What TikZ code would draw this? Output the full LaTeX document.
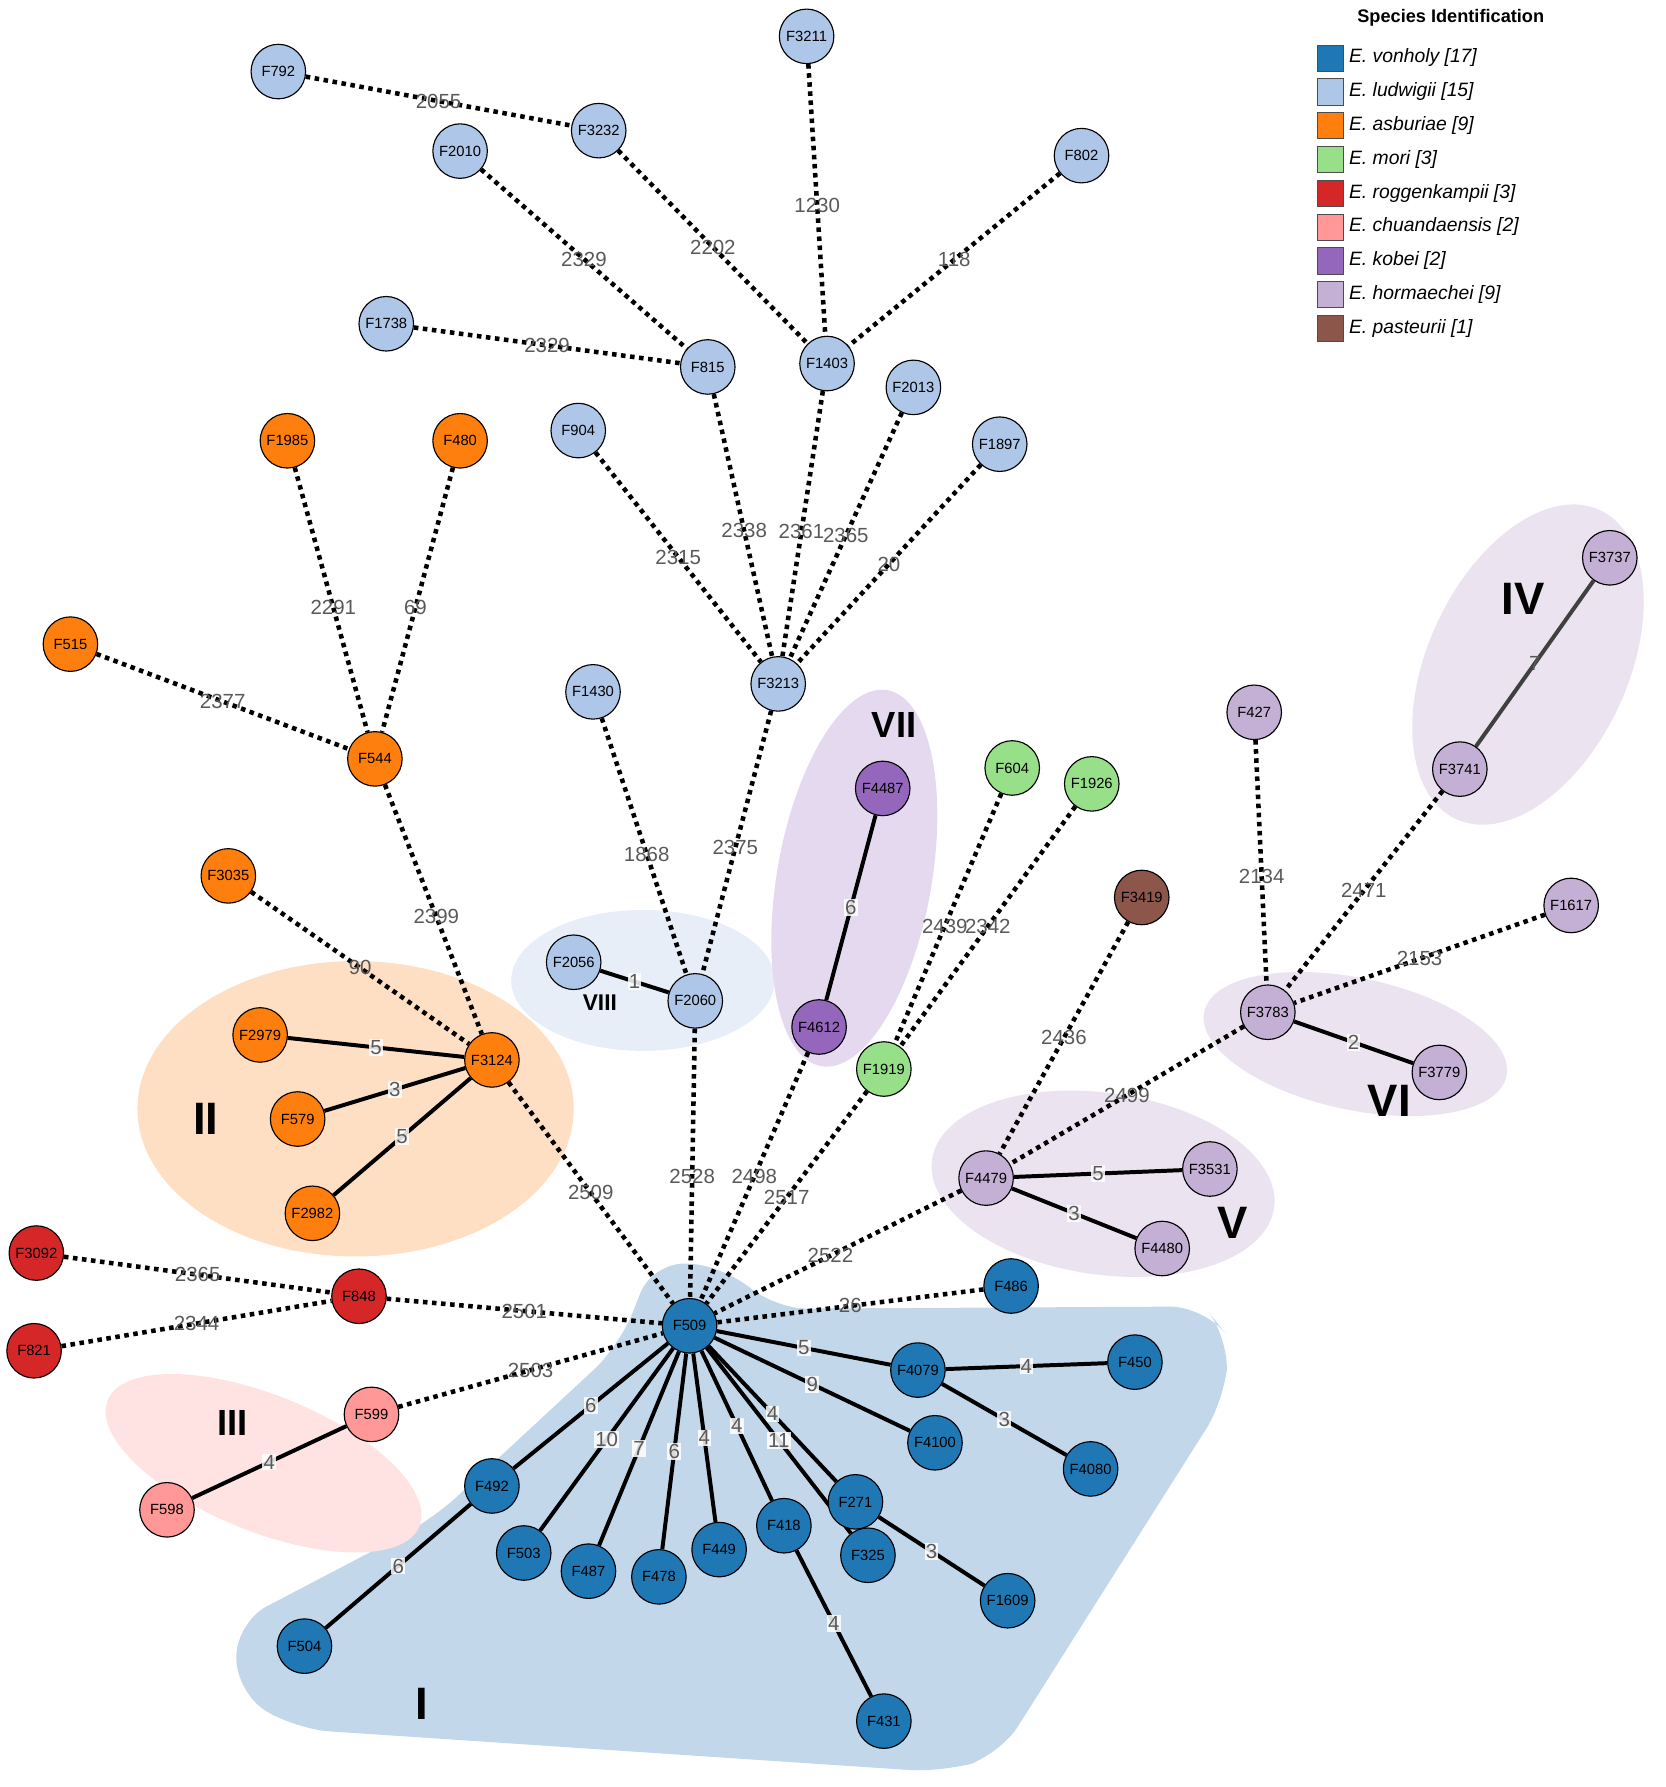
\documentclass[tikz,border=0pt]{standalone}
\usepackage{fontspec}
\setmainfont{Liberation Sans}
\pgfdeclarelayer{hull}\pgfdeclarelayer{edges}
\pgfsetlayers{hull,edges,main}
\definecolor{cvon}{HTML}{1F77B4}\definecolor{clud}{HTML}{AEC7E8}
\definecolor{casb}{HTML}{FF7F0E}\definecolor{cmor}{HTML}{98DF8A}
\definecolor{crog}{HTML}{D62728}\definecolor{cchu}{HTML}{FF9896}
\definecolor{ckob}{HTML}{9467BD}\definecolor{chor}{HTML}{C5B0D5}
\definecolor{cpas}{HTML}{8C564B}\definecolor{hullI}{HTML}{C2D7EA}
\tikzset{
 st/.style={circle,draw=black,line width=1pt,minimum size=48pt,inner sep=0pt,font=\fontsize{13}{13}\selectfont},
 von/.style={st,fill=cvon},lud/.style={st,fill=clud},asb/.style={st,fill=casb},
 mor/.style={st,fill=cmor},rog/.style={st,fill=crog},chu/.style={st,fill=cchu},
 kob/.style={st,fill=ckob},hor/.style={st,fill=chor},pas/.style={st,fill=cpas},
 dotl/.style={line width=4pt,dash pattern=on 4pt off 4pt},
 sol/.style={line width=3.5pt},
 lab/.style={text=black!65,font=\fontsize{18}{18}\selectfont,inner sep=1pt},
 slab/.style={lab,fill=white,fill opacity=0.85,text opacity=1},
 grp/.style={font=\bfseries\fontsize{40}{40}\selectfont},
 lsq/.style={draw=black!70,minimum size=23pt,inner sep=0pt},
 ltx/.style={anchor=west,font=\fontsize{17}{17}\selectfont}
}
\begin{document}
\begin{tikzpicture}[x=1pt,y=-1pt]
\useasboundingbox (0,0) rectangle (1466,1573);
% hulls
\begin{pgfonlayer}{hull}
\fill[fill=hullI,rounded corners=30pt] (575,1110)--(640,1115)--(680,1152)--(1060,1150)--(1082,1178)--(1078,1232)--(880,1545)--(830,1560)--(260,1522)--(208,1490)--(208,1428)--(380,1338)--(545,1185)--cycle;
\fill[fill=casb!25] (313,976) ellipse [x radius=192, y radius=130];
\fill[fill=cchu!28,rotate around={-22:(232,1288)}] (232,1288) ellipse [x radius=148, y radius=60];
\fill[fill=clud!30] (566,863) ellipse [x radius=116, y radius=62];
\fill[fill=ckob!25,rotate around={-10:(752,773)}] (752,773) ellipse [x radius=68, y radius=168];
\fill[fill=chor!35,rotate around={-25:(1345,585)}] (1345,585) ellipse [x radius=88, y radius=150];
\fill[fill=chor!35,rotate around={-8:(971,1042)}] (971,1042) ellipse [x radius=152, y radius=80];
\fill[fill=chor!35,rotate around={-12:(1193,919)}] (1193,919) ellipse [x radius=136, y radius=58];
\end{pgfonlayer}
\node[grp] at (371,1500) {I};
\node[grp] at (181,985) {II};
\node[grp,font=\bfseries\fontsize{32}{32}\selectfont] at (205,1253) {III};
\node[grp] at (1341,527) {IV};
\node[grp] at (1085,1076) {V};
\node[grp] at (1223,969) {VI};
\node[grp,font=\bfseries\fontsize{32}{32}\selectfont] at (787,638) {VII};
\node[grp,font=\bfseries\fontsize{20}{20}\selectfont] at (528,883) {VIII};
% nodes
\node[lud] (F792) at (245,63) {F792};
\node[lud] (F3232) at (527,115) {F3232};
\node[lud] (F3211) at (710,32) {F3211};
\node[lud] (F2010) at (405,133) {F2010};
\node[lud] (F802) at (952,137) {F802};
\node[lud] (F1403) at (728,320) {F1403};
\node[lud] (F815) at (623,323) {F815};
\node[lud] (F1738) at (340,285) {F1738};
\node[lud] (F2013) at (804,341) {F2013};
\node[lud] (F904) at (509,379) {F904};
\node[lud] (F1897) at (880,391) {F1897};
\node[lud] (F3213) at (685,602) {F3213};
\node[lud] (F1430) at (522,609) {F1430};
\node[lud] (F2056) at (505,847) {F2056};
\node[lud] (F2060) at (612,881) {F2060};
\node[asb] (F1985) at (253,388) {F1985};
\node[asb] (F480) at (405,388) {F480};
\node[asb] (F515) at (62,567) {F515};
\node[asb] (F544) at (330,668) {F544};
\node[asb] (F3035) at (201,771) {F3035};
\node[asb] (F3124) at (433,933) {F3124};
\node[asb] (F2979) at (229,911) {F2979};
\node[asb] (F579) at (262,985) {F579};
\node[asb] (F2982) at (275,1068) {F2982};
\node[kob] (F4487) at (777,694) {F4487};
\node[kob] (F4612) at (721,904) {F4612};
\node[mor] (F604) at (891,676) {F604};
\node[mor] (F1926) at (961,690) {F1926};
\node[mor] (F1919) at (778,941) {F1919};
\node[pas] (F3419) at (1005,790) {F3419};
\node[hor] (F427) at (1104,627) {F427};
\node[hor] (F3737) at (1417,491) {F3737};
\node[hor] (F3741) at (1285,677) {F3741};
\node[hor] (F1617) at (1383,797) {F1617};
\node[hor] (F3783) at (1116,891) {F3783};
\node[hor] (F3779) at (1267,944) {F3779};
\node[hor] (F4479) at (868,1037) {F4479};
\node[hor] (F3531) at (1065,1029) {F3531};
\node[hor] (F4480) at (1023,1099) {F4480};
\node[rog] (F3092) at (32,1103) {F3092};
\node[rog] (F848) at (316,1141) {F848};
\node[rog] (F821) at (30,1189) {F821};
\node[chu] (F599) at (327,1245) {F599};
\node[chu] (F598) at (147,1329) {F598};
\node[von] (F486) at (890,1132) {F486};
\node[von] (F509) at (607,1167) {F509};
\node[von] (F4079) at (808,1206) {F4079};
\node[von] (F450) at (999,1199) {F450};
\node[von] (F4100) at (823,1270) {F4100};
\node[von] (F4080) at (960,1293) {F4080};
\node[von] (F492) at (433,1308) {F492};
\node[von] (F503) at (461,1367) {F503};
\node[von] (F487) at (518,1383) {F487};
\node[von] (F478) at (580,1388) {F478};
\node[von] (F449) at (633,1364) {F449};
\node[von] (F418) at (690,1343) {F418};
\node[von] (F271) at (753,1322) {F271};
\node[von] (F325) at (764,1369) {F325};
\node[von] (F1609) at (887,1409) {F1609};
\node[von] (F504) at (268,1449) {F504};
\node[von] (F431) at (778,1515) {F431};
% edges
\begin{pgfonlayer}{edges}
\foreach \a/\b/\p/\l in {F792/F3232/0.5/2055,F3232/F1403/0.5/2202,F3211/F1403/0.52/1230,F802/F1403/0.5/118,
 F2010/F815/0.5/2329,F1738/F815/0.5/2329,F815/F3213/0.52/2338,F1403/F3213/0.53/2361,F2013/F3213/0.5/2365,
 F1897/F3213/0.5/20,F904/F3213/0.5/2315,F3213/F2060/0.52/2375,F1430/F2060/0.53/1868,F1985/F544/0.53/2291,
 F480/F544/0.53/69,F515/F544/0.5/2377,F544/F3124/0.53/2399,F3035/F3124/0.5/90,F3124/F509/0.5/2509,
 F2060/F509/0.55/2528,F4612/F509/0.5/2498,F1919/F509/0.5/2517,F604/F1919/0.53/2439,F1926/F1919/0.5/2342,
 F3419/F4479/0.5/2436,F4479/F509/0.53/2522,F3783/F4479/0.5/2499,F427/F3783/0.56/2134,F3741/F3783/0.5/2471,
 F1617/F3783/0.5/2153,F486/F509/0.5/26,F848/F509/0.5/2501,F3092/F848/0.5/2365,F821/F848/0.5/2344,F599/F509/0.5/2503}
 {\draw[dotl] (\a) -- node[lab,pos=\p]{\l} (\b);}
\draw[sol,black!75] (F3737) -- node[lab,pos=0.5]{7} (F3741);
\foreach \a/\b/\l in {F4487/F4612/6,F2056/F2060/1,F2979/F3124/5,F579/F3124/3,F2982/F3124/5,F3783/F3779/2,
 F4479/F3531/5,F4479/F4480/3,F598/F599/4,F509/F4079/5,F4079/F450/4,F4079/F4080/3,F509/F4100/9,
 F509/F271/4,F509/F418/4,F509/F449/4,F509/F325/11,F509/F478/6,F509/F487/7,F509/F503/10,F509/F492/6,
 F492/F504/6,F271/F1609/3,F418/F431/4}
 {\draw[sol] (\a) -- node[slab,pos=0.5]{\l} (\b);}
\end{pgfonlayer}
% legend
\node[font=\bfseries\fontsize{16}{16}\selectfont] (lt) at (1277,16) {Species Identification};
\foreach \c/\t [count=\i] in {cvon/vonholy [17],clud/ludwigii [15],casb/asburiae [9],cmor/mori [3],crog/roggenkampii [3],cchu/chuandaensis [2],ckob/kobei [2],chor/hormaechei [9],cpas/pasteurii [1]}
{\pgfmathsetmacro\yy{51+29.75*(\i-1)}
 \node[lsq,fill=\c] (sq\i) at (1171,\yy) {};
 \node[ltx] (lx\i) at (1184,\yy) {\textit{E. \t}};}
\end{tikzpicture}
\end{document}
